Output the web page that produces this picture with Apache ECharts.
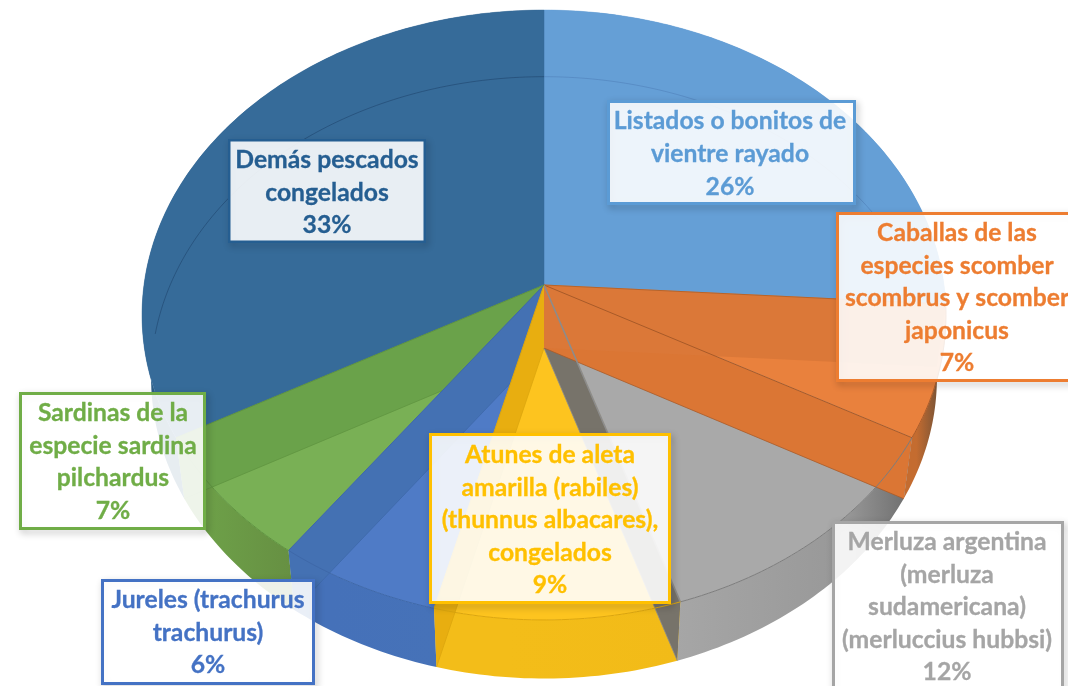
<!DOCTYPE html>
<html><head><meta charset="utf-8">
<style>html,body{margin:0;padding:0;background:#fff;overflow:hidden}#c{width:1068px;height:686px}</style>
<script src="https://cdn.jsdelivr.net/npm/echarts@6/dist/echarts.min.js"></script>
</head><body><div id="c"></div>
<script>
// ---- data (clockwise from 12 o'clock) ----
const sliceNames = [
  ['Listados o bonitos de','vientre rayado'],
  ['Caballas de las','especies scomber','scombrus y scomber','japonicus'],
  ['Merluza argentina','(merluza','sudamericana)','(merluccius hubbsi)'],
  ['Atunes de aleta','amarilla (rabiles)','(thunnus albacares),','congelados'],
  ['Jureles (trachurus','trachurus)'],
  ['Sardinas de la','especie sardina','pilchardus'],
  ['Demás pescados','congelados']
];
const sliceValues = [26, 7, 12, 9, 6, 7, 33];
// ---- styles ----
const labelColors = ['#5b9bd5','#ed7d31','#a5a5a5','#ffc000','#4472c4','#70ad47','#255e91'];
const topColors   = ['#659fd6','#e9813d','#a9a9a9','#fdc41f','#4f7bc6','#79b055','#366b99'];
const sideFrom    = ['#5a90c4','#c46c30','#a6a6a6','#f3bd19','#4571b9','#6d9f48','#2e5f88'];
const sideTo      = ['#5a90c4','#5e4a38','#6c6c6c','#f2bb18','#4672b8','#668f42','#2e5f88'];
const wallColors  = ['#db7838','#db7634','#77736a','#e8ae10','#4471b3','#6aa24a','#366b99'];
const edgeColors  = ['#b5642c','#a85a28','#8c8c8c','#dca60e','#3e68a9','#5f9440','#2f5f8a'];
const labelBoxes = [
  [607,100,249,105, 730,121.5],
  [836,212,240,170, 957,233],
  [832,521,232,180, 947,542],
  [429,433,242,171, 550,455],
  [101,579,214,106, 208,600],
  [19,392,187,138, 113,413],
  [228,139,198,104, 327,160]
];
const labelBorder = [3,3,3,3,3,3,2.5];
const lineStep = 32.6;
// perspective projection of the pie: [x0, y0, A, B] for top and bottom planes
const planes = [[544,285,400,302],[544,348,391,298]];
const persp = 0.0984;

const total = sliceValues.reduce((a,b)=>a+b,0);
const starts = []; { let c=0; sliceValues.forEach(v=>{starts.push(c/total*2*Math.PI); c+=v;}); starts.push(2*Math.PI); }
function P(th, lv){
  const p=planes[lv], w=1+persp*Math.cos(th);
  return [p[0]+p[2]*Math.sin(th)/w, p[1]-p[3]*Math.cos(th)/w];
}
function arc(a,b,lv){
  const n=Math.max(2,Math.ceil((b-a)/(Math.PI/180))), r=[];
  for(let i=0;i<=n;i++) r.push(P(a+(b-a)*i/n,lv));
  return r;
}
const apex = lv => [planes[lv][0],planes[lv][1]];
const data = sliceValues.map((v,i)=>({value:v,name:sliceNames[i].join(' ')}));

function sideItem(p){
  const i=p.dataIndex, pts=arc(starts[i],starts[i+1],0).concat(arc(starts[i],starts[i+1],1).reverse());
  const xs=pts.map(q=>q[0]);
  const minX=Math.min(...xs), maxX=Math.max(...xs);
  const grad=new echarts.graphic.LinearGradient(minX,0,maxX,0,[{offset:0,color:sideFrom[i]},{offset:(i===2?0.72:0.3),color:i===2?'#989898':sideFrom[i]},{offset:1,color:sideTo[i]}],true);
  return {type:'polygon',shape:{points:pts},style:{fill:grad}};
}
function topItem(p){
  const i=p.dataIndex;
  return {type:'polygon',shape:{points:[apex(0)].concat(arc(starts[i],starts[i+1],0))},style:{fill:topColors[i],stroke:topColors[i],lineWidth:0.5}};
}
function wallItem(p){
  const i=sliceValues.length-1-p.dataIndex, th=starts[i+1];
  if(i===sliceValues.length-1) return {type:'group',children:[]};
  const kids=[{type:'polygon',shape:{points:[apex(0),apex(1),P(th,1),P(th,0)]},style:{fill:wallColors[i]}}];
  if(i!==0) kids.push({type:'polyline',shape:{points:[apex(1),P(th,1)]},style:{fill:null,stroke:edgeColors[i],lineWidth:0.8}});
  return {type:'group',children:kids};
}
function lineItem(p){
  const i=p.dataIndex, th=starts[i+1], kids=[];
  const a=starts[i], b=starts[i+1];
  const front = (a+b)/2>Math.PI/2 && (a+b)/2<Math.PI*1.5;
  if(front) kids.push({type:'polyline',shape:{points:arc(a,b,0)},style:{fill:null,stroke:i===2?'#7d7d7d':edgeColors[i],lineWidth:1}});
  if(i<sliceValues.length-1) kids.push({type:'polyline',shape:{points:[apex(0),P(th,0)]},style:{fill:null,stroke:edgeColors[i],lineWidth:i===2?1.6:1}});
  // far edge of the lower disc, seen through the top face
  if(i===sliceValues.length-1) kids.push({type:'polyline',shape:{points:arc(a+0.55,b,1)},style:{fill:null,stroke:'rgba(30,65,105,0.55)',lineWidth:1}});
  if(i===0) kids.push({type:'polyline',shape:{points:arc(a,a+1.1,1)},style:{fill:null,stroke:'rgba(60,100,160,0.3)',lineWidth:1}});
  return {type:'group',children:kids};
}
function labelItem(p){
  const i=p.dataIndex, b=labelBoxes[i], font='bold 24.7px Lato, Carlito, sans-serif', lw=labelBorder[i];
  const shape={x:b[0]+lw/2,y:b[1]+lw/2,width:b[2]-lw,height:b[3]-lw};
  const kids=[
    {type:'rect',shape:shape,style:{fill:null,stroke:labelColors[i],lineWidth:lw,shadowBlur:7,shadowColor:'rgba(0,0,0,0.3)',shadowOffsetX:2,shadowOffsetY:3}},
    {type:'rect',shape:shape,style:{fill:'rgba(255,255,255,0.885)'}},
    {type:'rect',shape:shape,style:{fill:null,stroke:labelColors[i],lineWidth:lw}}
  ];
  const lines=sliceNames[i].concat([sliceValues[i]+'%']);
  lines.forEach((t,k)=>kids.push({type:'text',style:{text:t,x:b[4],y:b[5]+k*lineStep,align:'center',verticalAlign:'middle',font:font,fill:labelColors[i],stroke:labelColors[i],lineWidth:0.3}}));
  return {type:'group',children:kids};
}
const layer=(renderItem,z)=>({type:'custom',coordinateSystem:'none',renderItem,data,z,silent:true,animation:false,clip:false});
const chart=echarts.init(document.getElementById('c'),null,{renderer:'canvas'});
chart.setOption({backgroundColor:'#fff',animation:false,series:[
  layer(sideItem,1),layer(topItem,2),layer(wallItem,3),layer(lineItem,4),layer(labelItem,5)
]});
</script></body></html>
